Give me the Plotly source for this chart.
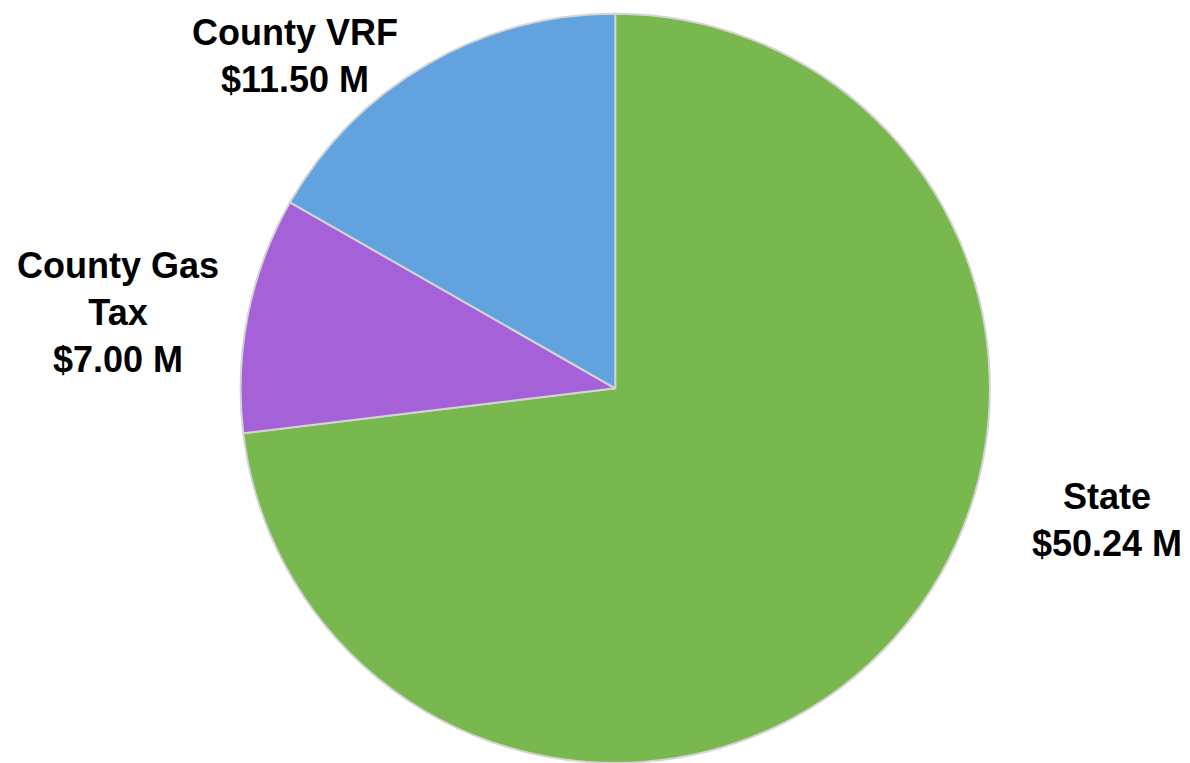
import plotly.graph_objects as go

categories = ["State", "County Gas Tax", "County VRF"]
label_texts = ["State<br>$50.24 M", "County Gas<br>Tax<br>$7.00 M", "County VRF<br>$11.50 M"]
values = [50.24, 7.00, 11.50]
colors = ["#79b84e", "#a561d8", "#62a2df"]

# label placement in paper coordinates (layout, not data)
label_pos = [(0.93, 0.318), (0.099, 0.59), (0.248, 0.926)]

fig = go.Figure(go.Pie(
    labels=categories,
    values=values,
    sort=False,
    direction="clockwise",
    rotation=0,
    textinfo="none",
    hoverinfo="label+value",
    marker=dict(colors=colors, line=dict(color="#d4d4d4", width=2)),
    domain=dict(x=[0.2, 0.834], y=[0.0, 0.982]),
    showlegend=False,
))

for txt, (x, y) in zip(label_texts, label_pos):
    fig.add_annotation(
        x=x, y=y, xref="paper", yref="paper",
        text="<b>" + txt + "</b>", showarrow=False,
        font=dict(family="Liberation Sans, Arial, sans-serif", size=36, color="black"),
        align="center", xanchor="center", yanchor="middle",
    )

fig.update_layout(
    width=1190, height=763,
    margin=dict(l=0, r=0, t=0, b=0),
    paper_bgcolor="white", plot_bgcolor="white",
)

fig.write_html("out.html")
